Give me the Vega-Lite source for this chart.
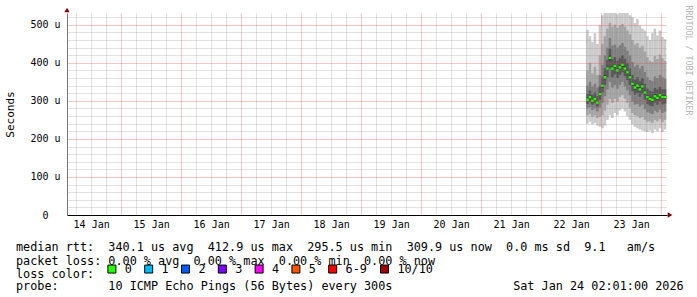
{
  "$schema": "https://vega.github.io/schema/vega-lite/v6.json",
  "width": 600,
  "height": 202,
  "autosize": "none",
  "padding": {"left": 67, "top": 13, "right": 30, "bottom": 82},
  "background": "white",
  "config": {
    "view": {"stroke": null},
    "axis": {"ticks": false, "labelFont": "DejaVu Sans Mono", "labelFontSize": 10, "labelColor": "#000000", "titleFont": "DejaVu Sans Mono", "titleFontWeight": "normal", "titleColor": "#000000", "gridDash": [1, 1]}
  },
  "title": {
    "text": [
      "median rtt:\u00a0\u00a0340.1 us avg\u00a0\u00a0412.9 us max\u00a0\u00a0295.5 us min\u00a0\u00a0309.9 us now\u00a0\u00a00.0 ms sd\u00a0\u00a09.1\u00a0\u00a0\u00a0am/s",
      "packet loss: 0.00 % avg\u00a0\u00a00.00 % max\u00a0\u00a00.00 % min\u00a0\u00a00.00 % now"
    ],
    "subtitle": "probe:\u00a0\u00a0\u00a0\u00a0\u00a0\u00a0\u00a010 ICMP Echo Pings (56 Bytes) every 300s\u00a0\u00a0\u00a0\u00a0\u00a0\u00a0\u00a0\u00a0\u00a0\u00a0\u00a0\u00a0\u00a0\u00a0\u00a0\u00a0\u00a0Sat Jan 24 02:01:00 2026",
    "orient": "bottom",
    "anchor": "start",
    "frame": "group",
    "dx": -51,
    "offset": -39,
    "baseline": "top",
    "font": "DejaVu Sans Mono",
    "fontSize": 11.8,
    "fontWeight": "normal",
    "color": "#000000",
    "lineHeight": 13.9,
    "subtitleFont": "DejaVu Sans Mono",
    "subtitleFontSize": 11.8,
    "subtitleFontWeight": "normal",
    "subtitleColor": "#000000",
    "subtitlePadding": 13.5
  },
  "data": {
    "values": [
      {"t": "2026-01-22T18:30:00", "loss": "0", "med": 303, "p1": 240, "p2": 262, "p3": 280, "p4": 292, "p5": 299, "p6": 307, "p7": 318, "p8": 340, "p9": 380, "p10": 487},
      {"t": "2026-01-22T19:30:00", "loss": "0", "med": 310, "p1": 245, "p2": 265, "p3": 283, "p4": 297, "p5": 306, "p6": 314, "p7": 327, "p8": 350, "p9": 400, "p10": 470},
      {"t": "2026-01-22T20:30:00", "loss": "0", "med": 300, "p1": 238, "p2": 258, "p3": 276, "p4": 290, "p5": 296, "p6": 304, "p7": 316, "p8": 338, "p9": 372, "p10": 455},
      {"t": "2026-01-22T21:30:00", "loss": "0", "med": 305, "p1": 242, "p2": 262, "p3": 280, "p4": 294, "p5": 301, "p6": 309, "p7": 322, "p8": 345, "p9": 390, "p10": 478},
      {"t": "2026-01-22T22:30:00", "loss": "0", "med": 295.5, "p1": 235, "p2": 255, "p3": 272, "p4": 285, "p5": 292, "p6": 299, "p7": 312, "p8": 335, "p9": 368, "p10": 450},
      {"t": "2026-01-22T23:30:00", "loss": "0", "med": 318, "p1": 232, "p2": 258, "p3": 282, "p4": 303, "p5": 314, "p6": 322, "p7": 338, "p8": 368, "p9": 420, "p10": 500},
      {"t": "2026-01-23T00:30:00", "loss": "0", "med": 340, "p1": 228, "p2": 262, "p3": 295, "p4": 322, "p5": 335, "p6": 345, "p7": 362, "p8": 395, "p9": 450, "p10": 525},
      {"t": "2026-01-23T01:30:00", "loss": "0", "med": 362, "p1": 235, "p2": 275, "p3": 312, "p4": 342, "p5": 357, "p6": 367, "p7": 386, "p8": 420, "p9": 470, "p10": 531},
      {"t": "2026-01-23T02:30:00", "loss": "0", "med": 385, "p1": 250, "p2": 290, "p3": 330, "p4": 362, "p5": 380, "p6": 390, "p7": 408, "p8": 440, "p9": 490, "p10": 531},
      {"t": "2026-01-23T03:30:00", "loss": "0", "med": 412.9, "p1": 262, "p2": 305, "p3": 350, "p4": 385, "p5": 406, "p6": 420, "p7": 438, "p8": 465, "p9": 505, "p10": 531},
      {"t": "2026-01-23T04:30:00", "loss": "0", "med": 385, "p1": 255, "p2": 295, "p3": 335, "p4": 362, "p5": 380, "p6": 390, "p7": 410, "p8": 445, "p9": 495, "p10": 531},
      {"t": "2026-01-23T05:30:00", "loss": "0", "med": 392, "p1": 268, "p2": 305, "p3": 342, "p4": 370, "p5": 387, "p6": 397, "p7": 415, "p8": 448, "p9": 500, "p10": 531},
      {"t": "2026-01-23T06:30:00", "loss": "0", "med": 380, "p1": 262, "p2": 298, "p3": 332, "p4": 360, "p5": 375, "p6": 385, "p7": 405, "p8": 440, "p9": 492, "p10": 528},
      {"t": "2026-01-23T07:30:00", "loss": "0", "med": 388, "p1": 275, "p2": 310, "p3": 342, "p4": 368, "p5": 383, "p6": 393, "p7": 412, "p8": 446, "p9": 498, "p10": 531},
      {"t": "2026-01-23T08:30:00", "loss": "0", "med": 395, "p1": 280, "p2": 315, "p3": 350, "p4": 375, "p5": 390, "p6": 400, "p7": 420, "p8": 452, "p9": 502, "p10": 531},
      {"t": "2026-01-23T09:30:00", "loss": "0", "med": 385, "p1": 272, "p2": 305, "p3": 338, "p4": 365, "p5": 380, "p6": 390, "p7": 410, "p8": 442, "p9": 495, "p10": 531},
      {"t": "2026-01-23T10:30:00", "loss": "0", "med": 375, "p1": 260, "p2": 295, "p3": 328, "p4": 355, "p5": 370, "p6": 380, "p7": 400, "p8": 432, "p9": 485, "p10": 531},
      {"t": "2026-01-23T11:30:00", "loss": "0", "med": 362, "p1": 250, "p2": 282, "p3": 315, "p4": 342, "p5": 357, "p6": 367, "p7": 385, "p8": 420, "p9": 475, "p10": 525},
      {"t": "2026-01-23T12:30:00", "loss": "0", "med": 345, "p1": 238, "p2": 268, "p3": 298, "p4": 325, "p5": 340, "p6": 350, "p7": 368, "p8": 402, "p9": 460, "p10": 520},
      {"t": "2026-01-23T13:30:00", "loss": "0", "med": 335, "p1": 232, "p2": 262, "p3": 290, "p4": 316, "p5": 330, "p6": 340, "p7": 356, "p8": 390, "p9": 448, "p10": 505},
      {"t": "2026-01-23T14:30:00", "loss": "0", "med": 340, "p1": 228, "p2": 260, "p3": 292, "p4": 320, "p5": 335, "p6": 345, "p7": 362, "p8": 395, "p9": 452, "p10": 515},
      {"t": "2026-01-23T15:30:00", "loss": "0", "med": 330, "p1": 225, "p2": 255, "p3": 285, "p4": 311, "p5": 325, "p6": 335, "p7": 352, "p8": 385, "p9": 440, "p10": 498},
      {"t": "2026-01-23T16:30:00", "loss": "0", "med": 338, "p1": 222, "p2": 258, "p3": 290, "p4": 318, "p5": 333, "p6": 343, "p7": 360, "p8": 392, "p9": 445, "p10": 490},
      {"t": "2026-01-23T17:30:00", "loss": "0", "med": 322, "p1": 220, "p2": 250, "p3": 278, "p4": 303, "p5": 317, "p6": 327, "p7": 344, "p8": 376, "p9": 430, "p10": 485},
      {"t": "2026-01-23T18:30:00", "loss": "0", "med": 310, "p1": 218, "p2": 245, "p3": 270, "p4": 292, "p5": 305, "p6": 315, "p7": 332, "p8": 362, "p9": 415, "p10": 470},
      {"t": "2026-01-23T19:30:00", "loss": "0", "med": 305, "p1": 222, "p2": 246, "p3": 268, "p4": 288, "p5": 300, "p6": 310, "p7": 326, "p8": 355, "p9": 405, "p10": 460},
      {"t": "2026-01-23T20:30:00", "loss": "0", "med": 303, "p1": 215, "p2": 242, "p3": 265, "p4": 286, "p5": 298, "p6": 308, "p7": 324, "p8": 352, "p9": 402, "p10": 478},
      {"t": "2026-01-23T21:30:00", "loss": "0", "med": 312, "p1": 225, "p2": 250, "p3": 274, "p4": 295, "p5": 307, "p6": 317, "p7": 334, "p8": 364, "p9": 418, "p10": 490},
      {"t": "2026-01-23T22:30:00", "loss": "0", "med": 308, "p1": 220, "p2": 246, "p3": 270, "p4": 290, "p5": 303, "p6": 313, "p7": 330, "p8": 360, "p9": 410, "p10": 472},
      {"t": "2026-01-23T23:30:00", "loss": "0", "med": 315, "p1": 228, "p2": 252, "p3": 277, "p4": 298, "p5": 310, "p6": 320, "p7": 337, "p8": 368, "p9": 422, "p10": 485},
      {"t": "2026-01-24T00:30:00", "loss": "0", "med": 310, "p1": 218, "p2": 244, "p3": 268, "p4": 291, "p5": 305, "p6": 315, "p7": 331, "p8": 362, "p9": 412, "p10": 468},
      {"t": "2026-01-24T01:30:00", "loss": "0", "med": 309.9, "p1": 225, "p2": 250, "p3": 272, "p4": 293, "p5": 305, "p6": 315, "p7": 330, "p8": 358, "p9": 405, "p10": 462}
    ]
  },
  "resolve": {"axis": {"x": "independent", "y": "independent"}},
  "layer": [
    {
      "mark": {"type": "bar", "width": 2.6, "color": "#cacaca"},
      "encoding": {
        "x": {"field": "t", "type": "temporal",
          "scale": {"domain": [{"year": 2026, "month": 1, "date": 14, "hours": 2, "minutes": 20}, {"year": 2026, "month": 1, "date": 24, "hours": 2, "minutes": 20}], "padding": 0},
          "axis": {"orient": "bottom", "grid": true, "gridColor": "#8c8c8c", "gridOpacity": 0.5, "gridDash": [1, 1],
            "values": [
              {"year": 2026, "month": 1, "date": 14, "hours": 6}, {"year": 2026, "month": 1, "date": 14, "hours": 12}, {"year": 2026, "month": 1, "date": 14, "hours": 18},
              {"year": 2026, "month": 1, "date": 15, "hours": 6}, {"year": 2026, "month": 1, "date": 15, "hours": 12}, {"year": 2026, "month": 1, "date": 15, "hours": 18},
              {"year": 2026, "month": 1, "date": 16, "hours": 6}, {"year": 2026, "month": 1, "date": 16, "hours": 12}, {"year": 2026, "month": 1, "date": 16, "hours": 18},
              {"year": 2026, "month": 1, "date": 17, "hours": 6}, {"year": 2026, "month": 1, "date": 17, "hours": 12}, {"year": 2026, "month": 1, "date": 17, "hours": 18},
              {"year": 2026, "month": 1, "date": 18, "hours": 6}, {"year": 2026, "month": 1, "date": 18, "hours": 12}, {"year": 2026, "month": 1, "date": 18, "hours": 18},
              {"year": 2026, "month": 1, "date": 19, "hours": 6}, {"year": 2026, "month": 1, "date": 19, "hours": 12}, {"year": 2026, "month": 1, "date": 19, "hours": 18},
              {"year": 2026, "month": 1, "date": 20, "hours": 6}, {"year": 2026, "month": 1, "date": 20, "hours": 12}, {"year": 2026, "month": 1, "date": 20, "hours": 18},
              {"year": 2026, "month": 1, "date": 21, "hours": 6}, {"year": 2026, "month": 1, "date": 21, "hours": 12}, {"year": 2026, "month": 1, "date": 21, "hours": 18},
              {"year": 2026, "month": 1, "date": 22, "hours": 6}, {"year": 2026, "month": 1, "date": 22, "hours": 12}, {"year": 2026, "month": 1, "date": 22, "hours": 18},
              {"year": 2026, "month": 1, "date": 23, "hours": 6}, {"year": 2026, "month": 1, "date": 23, "hours": 12}, {"year": 2026, "month": 1, "date": 23, "hours": 18}
            ],
            "labels": false, "ticks": false, "domain": false, "title": null, "zindex": 1}},
        "y": {"field": "p1", "type": "quantitative",
          "scale": {"domain": [0, 531], "nice": false, "zero": true, "padding": 0},
          "axis": {"orient": "left", "grid": true, "gridColor": "#8c8c8c", "gridOpacity": 0.5, "gridDash": [1, 1], "values": [20, 40, 60, 80, 120, 140, 160, 180, 220, 240, 260, 280, 320, 340, 360, 380, 420, 440, 460, 480, 520], "labels": false, "ticks": false, "domain": false, "title": null, "zindex": 1}},
        "y2": {"field": "p10"}
      }
    },
    {
      "mark": {"type": "bar", "width": 2.6, "color": "#a4a4a4"},
      "encoding": {
        "x": {"field": "t", "type": "temporal",
          "axis": {"orient": "bottom", "grid": true, "gridColor": "#dd4444", "gridOpacity": 0.6, "gridDash": [1, 1], "tickCount": 10, "labels": false, "ticks": false, "domain": false, "title": null, "zindex": 1}},
        "y": {"field": "p2", "type": "quantitative",
          "axis": {"orient": "left", "grid": true, "gridColor": "#dd4444", "gridOpacity": 0.6, "gridDash": [1, 1], "values": [0, 100, 200, 300, 400, 500], "labelExpr": "datum.value == 0 ? '' : datum.value + '\u00a0u'", "labelPadding": 7, "labelBaseline": "middle", "ticks": false, "domain": true, "domainColor": "#777777", "title": "Seconds", "titleFont": "DejaVu Sans Mono", "titleFontSize": 11, "titleAngle": -90, "titleX": -57, "titleY": 101, "titleAlign": "center", "titleBaseline": "middle", "zindex": 1}},
        "y2": {"field": "p9"}
      }
    },
    {
      "mark": {"type": "bar", "width": 2.6, "color": "#7e7e7e"},
      "encoding": {
        "x": {"field": "t", "type": "temporal",
          "axis": {"orient": "bottom", "grid": false, "values": [{"year": 2026, "month": 1, "date": 14, "hours": 12}, {"year": 2026, "month": 1, "date": 15, "hours": 12}, {"year": 2026, "month": 1, "date": 16, "hours": 12}, {"year": 2026, "month": 1, "date": 17, "hours": 12}, {"year": 2026, "month": 1, "date": 18, "hours": 12}, {"year": 2026, "month": 1, "date": 19, "hours": 12}, {"year": 2026, "month": 1, "date": 20, "hours": 12}, {"year": 2026, "month": 1, "date": 21, "hours": 12}, {"year": 2026, "month": 1, "date": 22, "hours": 12}, {"year": 2026, "month": 1, "date": 23, "hours": 12}], "format": "%d %b", "labels": true, "labelPadding": 4, "labelOverlap": false, "labelFlush": false, "ticks": false, "domain": true, "domainColor": "#000000", "title": null, "zindex": 1}},
        "y": {"field": "p3", "type": "quantitative",
          "axis": {"orient": "right", "grid": false, "labels": false, "ticks": false, "domain": false, "title": "RRDTOOL / TOBI OETIKER", "titleFont": "DejaVu Sans Mono", "titleFontSize": 8.3, "titleColor": "#b4b4b4", "titleAngle": 90, "titleX": 20, "titleY": -8, "titleAlign": "left", "titleBaseline": "middle"}},
        "y2": {"field": "p8"}
      }
    },
    {
      "mark": {"type": "bar", "width": 2.6, "color": "#585858"},
      "encoding": {
        "x": {"field": "t", "type": "temporal", "axis": null},
        "y": {"field": "p4", "type": "quantitative",
          "axis": {"orient": "left", "values": [0], "labels": true, "labelPadding": 19, "labelBaseline": "middle", "grid": false, "domain": false, "ticks": false, "title": null}},
        "y2": {"field": "p7"}
      }
    },
    {
      "mark": {"type": "bar", "width": 2.6, "color": "#323232"},
      "encoding": {
        "x": {"field": "t", "type": "temporal", "axis": null},
        "y": {"field": "p5", "type": "quantitative", "axis": null},
        "y2": {"field": "p6"}
      }
    },
    {
      "mark": {"type": "tick", "orient": "horizontal", "size": 2.6, "thickness": 2.5, "opacity": 1},
      "encoding": {
        "x": {"field": "t", "type": "temporal", "axis": null},
        "y": {"field": "med", "type": "quantitative", "axis": null},
        "color": {"field": "loss", "type": "nominal",
          "scale": {"domain": ["0", "1", "2", "3", "4", "5", "6-9", "10/10"], "range": ["#26ff00", "#00b8ff", "#0059ff", "#7e00ff", "#ff00ff", "#ff5500", "#ff0000", "#a10000"]},
          "legend": {"orient": "none", "legendX": -51, "legendY": 250, "direction": "horizontal", "title": "loss color:", "titleOrient": "left", "titleFont": "DejaVu Sans Mono", "titleFontSize": 11.8, "titleFontWeight": "normal", "titleColor": "#000000", "titlePadding": 11, "titleBaseline": "top", "labelFont": "DejaVu Sans Mono", "labelFontSize": 11.8, "labelColor": "#000000", "labelOffset": 7, "columnPadding": 9.8, "symbolType": "square", "symbolSize": 64, "symbolStrokeColor": "#000000", "symbolStrokeWidth": 1, "symbolOpacity": 1, "padding": 0}}
      }
    },
    {
      "data": {"values": [{}]},
      "mark": {"type": "point", "shape": "triangle-up", "filled": true, "color": "#7f0000", "size": 28, "opacity": 1, "yOffset": -3},
      "encoding": {
        "x": {"datum": {"year": 2026, "month": 1, "date": 14, "hours": 2, "minutes": 20}, "type": "temporal", "axis": null},
        "y": {"datum": 531, "type": "quantitative", "axis": null}
      }
    },
    {
      "data": {"values": [{}]},
      "mark": {"type": "point", "shape": "triangle-right", "filled": true, "color": "#7f0000", "size": 28, "opacity": 1, "xOffset": 3},
      "encoding": {
        "x": {"datum": {"year": 2026, "month": 1, "date": 24, "hours": 2, "minutes": 20}, "type": "temporal", "axis": null},
        "y": {"datum": 0, "type": "quantitative", "axis": null}
      }
    }
  ]
}
